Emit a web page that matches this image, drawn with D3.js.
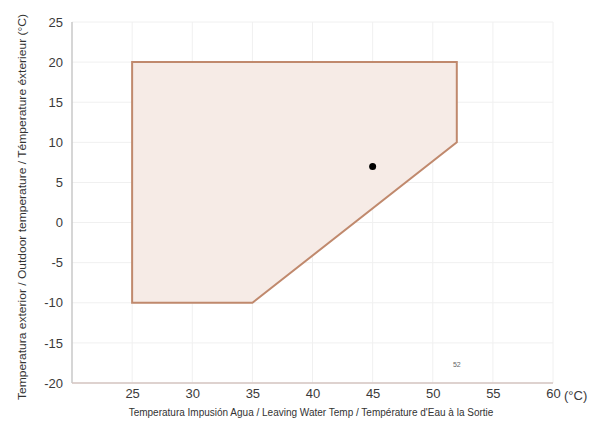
<!DOCTYPE html>
<html><head><meta charset="utf-8">
<script src="https://cdn.jsdelivr.net/npm/d3@7"></script>
<style>body{margin:0;background:#fff}</style>
</head><body>
<svg id="c" width="602" height="429"></svg>
<script>
const xTicks = [25, 30, 35, 40, 45, 50, 55, 60];
const yTicks = [-20, -15, -10, -5, 0, 5, 10, 15, 20, 25];
const envelopeX = [25, 52, 52, 35, 25];
const envelopeY = [20, 20, 10, -10, -10];
const pointX = [45];
const pointY = [7];
const extraTick = [52];
const xTitle = "Temperatura Impusión Agua / Leaving Water Temp / Température d'Eau à la Sortie";
const yTitle = "Temperatura exterior / Outdoor temperature / Témperature éxterieur (°C)";

const svg = d3.select("#c");
const x = d3.scaleLinear().domain([20, 60]).range([72, 553]);
const y = d3.scaleLinear().domain([-20, 25]).range([383, 22]);
const font = "Liberation Sans, Arial, sans-serif";

// gridlines
svg.append("g").selectAll("line").data(xTicks).join("line")
  .attr("x1", d => x(d)).attr("x2", d => x(d)).attr("y1", y(25)).attr("y2", y(-20))
  .attr("stroke", "#f0f0f0").attr("stroke-width", 1);
svg.append("g").selectAll("line").data(yTicks).join("line")
  .attr("x1", x(20)).attr("x2", x(60)).attr("y1", d => y(d)).attr("y2", d => y(d))
  .attr("stroke", "#f0f0f0").attr("stroke-width", 1);

// envelope polygon
const pts = envelopeX.map((v, i) => [x(v), y(envelopeY[i])]);
svg.append("polygon").attr("points", pts.map(p => p.join(",")).join(" "))
  .attr("fill", "#f6ebe6").attr("stroke", "#c0896d").attr("stroke-width", 2)
  .attr("stroke-linejoin", "miter");

// point
svg.selectAll("circle.pt").data(pointX).join("circle")
  .attr("cx", d => x(d)).attr("cy", (d, i) => y(pointY[i])).attr("r", 3.5).attr("fill", "#000");

// axes lines
svg.append("line").attr("x1", x(20)).attr("x2", x(20)).attr("y1", y(25)).attr("y2", y(-20))
  .attr("stroke", "#c8c8c8").attr("stroke-width", 1.5);
svg.append("line").attr("x1", x(20)).attr("x2", x(60)).attr("y1", y(-20)).attr("y2", y(-20))
  .attr("stroke", "#d6c6c2").attr("stroke-width", 1.5);

// y tick labels
const yAxis = d3.axisLeft(y).tickValues(yTicks).tickSize(0).tickPadding(9).tickFormat(d => String(d));
const gy = svg.append("g").attr("transform", `translate(${x(20)},0)`).call(yAxis);
gy.select(".domain").remove();
gy.selectAll("text").attr("font-family", font).attr("font-size", 13).attr("fill", "#3a3a3a");

// x tick labels
const xAxis = d3.axisBottom(x).tickValues(xTicks).tickSize(0).tickPadding(6)
  .tickFormat(d => String(d));
const gx = svg.append("g").attr("transform", `translate(0,${y(-20)})`).call(xAxis);
gx.select(".domain").remove();
gx.selectAll("text").attr("font-family", font).attr("font-size", 13).attr("fill", "#3a3a3a");
// unit after 60
svg.append("text").attr("x", x(60) + 11).attr("y", y(-20) + 17)
  .attr("font-family", font).attr("font-size", 13).attr("fill", "#3a3a3a").text("(°C)");

// small extra tick label 52
svg.selectAll("text.ex").data(extraTick).join("text").attr("class", "ex")
  .attr("x", d => x(d)).attr("y", y(-20) - 16).attr("text-anchor", "middle")
  .attr("font-family", font).attr("font-size", 7).attr("fill", "#666").text(d => d);

// titles
svg.append("text").attr("x", 311).attr("y", 416).attr("text-anchor", "middle")
  .attr("font-family", font).attr("font-size", 10).attr("fill", "#333").text(xTitle);
svg.append("text").attr("transform", "translate(26,207) rotate(-90)").attr("text-anchor", "middle")
  .attr("font-family", font).attr("font-size", 11).attr("fill", "#333")
  .attr("textLength", 386).attr("lengthAdjust", "spacingAndGlyphs").text(yTitle);
</script>
</body></html>
